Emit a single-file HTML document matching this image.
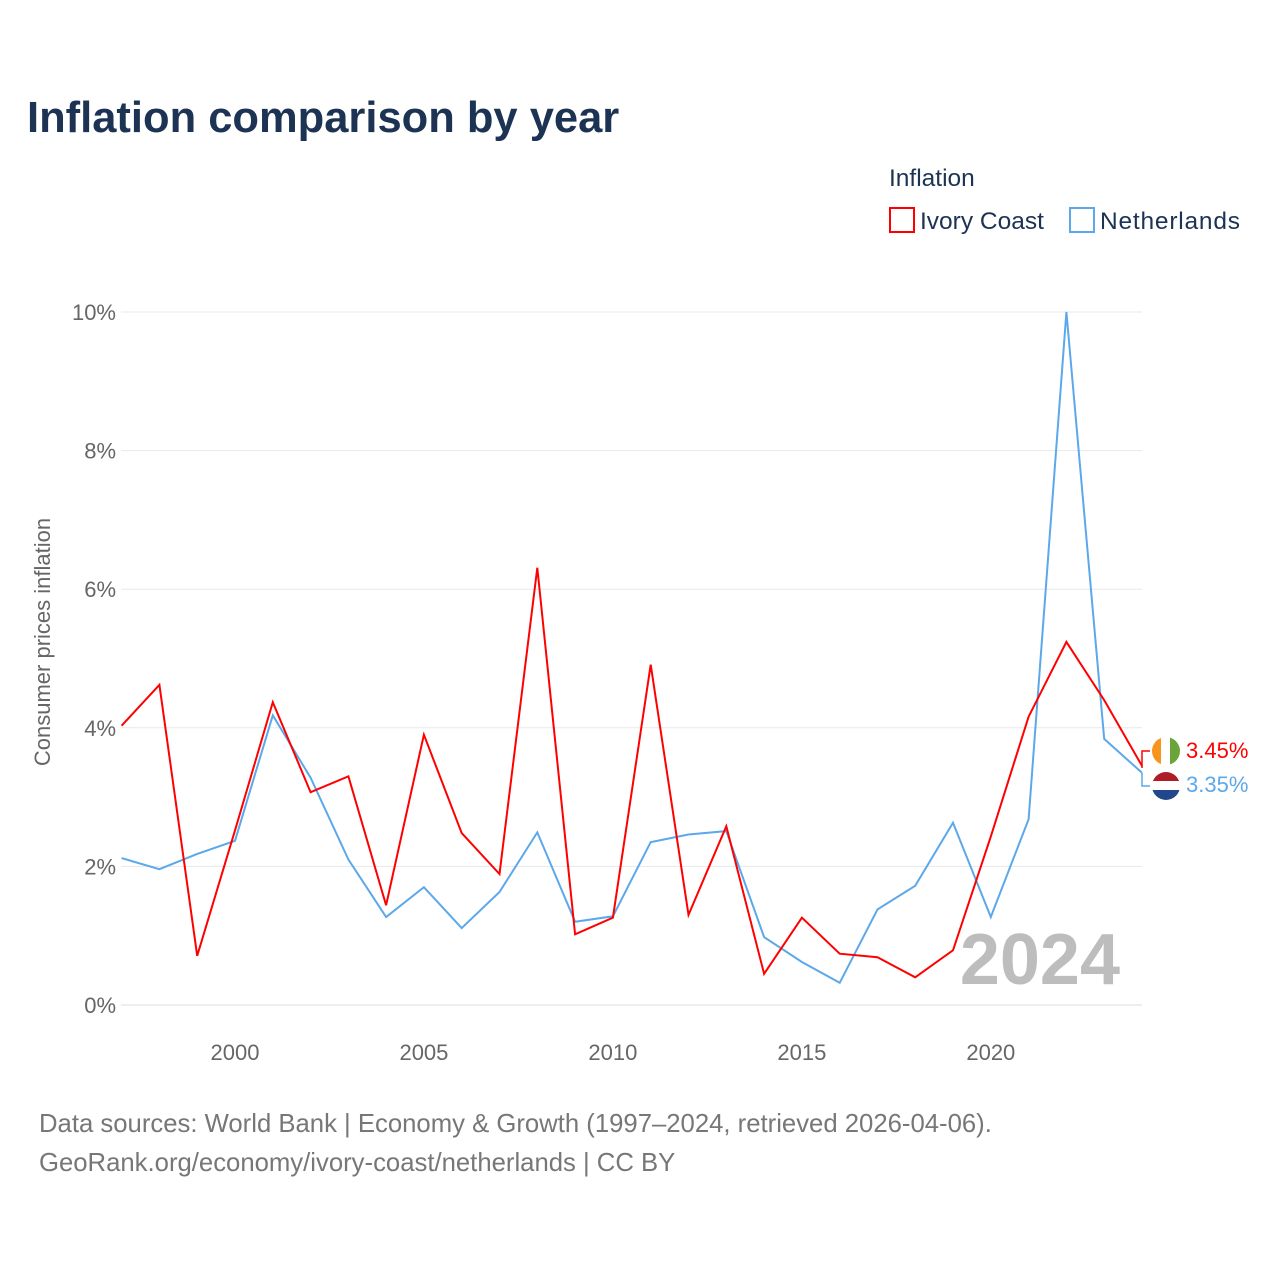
<!DOCTYPE html>
<html><head><meta charset="utf-8">
<style>
body{margin:0;background:#fff;font-family:"Liberation Sans",sans-serif;}
svg text{font-family:"Liberation Sans",sans-serif;}
</style></head>
<body>
<svg id="chart" width="1280" height="1280" viewBox="0 0 1280 1280">
<text x="27" y="132" font-size="43.5" font-weight="bold" fill="#1c3354">Inflation comparison by year</text>
<g>
<text x="889" y="186" font-size="24.5" fill="#1c3354">Inflation</text>
<g>
<rect x="890" y="208" width="24" height="24" fill="none" stroke="#ff0000" stroke-width="2"/>
<text x="920" y="229" font-size="24.5" fill="#1c3354">Ivory Coast</text></g>
<g>
<rect x="1070" y="208" width="24" height="24" fill="none" stroke="#5ba8ea" stroke-width="2"/>
<text x="1100" y="229" font-size="24.5" fill="#1c3354" textLength="140">Netherlands</text></g>
</g>
<text transform="translate(50,642) rotate(-90)" text-anchor="middle" font-size="22" fill="#666">Consumer prices inflation</text>
<g id="grid"></g>
<g id="xticks"></g>
<text x="1120" y="984" text-anchor="end" font-size="72" font-weight="bold" fill="#bdbdbd">2024</text>
<g id="series"></g>
<g>
<g>
<clipPath id="c1"><circle cx="1166" cy="751" r="14"/></clipPath>
<g clip-path="url(#c1)"><rect x="1152" y="737" width="10" height="28" fill="#f7941d"/><rect x="1161" y="737" width="10" height="28" fill="#fff"/><rect x="1170" y="737" width="10" height="28" fill="#6ba539"/></g></g>
<text x="1186" y="758" font-size="22" fill="#ff0000">3.45%</text>
<g>
<clipPath id="c2"><circle cx="1166" cy="786" r="14"/></clipPath>
<g clip-path="url(#c2)"><rect x="1152" y="772" width="28" height="10" fill="#ae1c28"/><rect x="1152" y="781" width="28" height="10" fill="#fff"/><rect x="1152" y="790" width="28" height="10" fill="#21468b"/></g></g>
<text x="1186" y="792" font-size="22" fill="#5ba8ea">3.35%</text>
<path d="M1142,768 L1142,751 L1150,751" fill="none" stroke="#ff0000" stroke-width="1.5"/>
<path d="M1142,773 L1142,786 L1150,786" fill="none" stroke="#5ba8ea" stroke-width="1.5"/>
</g>
<text x="39" y="1132" font-size="25.7" fill="#777">Data sources: World Bank | Economy &amp; Growth (1997–2024, retrieved 2026-04-06).</text>
<text x="39" y="1171" font-size="25.7" fill="#777">GeoRank.org/economy/ivory-coast/netherlands | CC BY</text>
</svg>
<script>
const years=[1997,1998,1999,2000,2001,2002,2003,2004,2005,2006,2007,2008,2009,2010,2011,2012,2013,2014,2015,2016,2017,2018,2019,2020,2021,2022,2023,2024];
const ivoryCoast=[4.03,4.62,0.71,2.52,4.37,3.07,3.30,1.44,3.90,2.48,1.89,6.31,1.02,1.26,4.91,1.30,2.58,0.45,1.26,0.74,0.69,0.40,0.79,2.43,4.16,5.24,4.40,3.45];
const netherlands=[2.12,1.96,2.18,2.37,4.18,3.28,2.10,1.27,1.70,1.11,1.63,2.49,1.20,1.28,2.35,2.46,2.51,0.98,0.62,0.32,1.38,1.72,2.63,1.27,2.68,10.0,3.84,3.35];
const yTicks=[0,2,4,6,8,10];
const xTicks=[2000,2005,2010,2015,2020];
const NS='http://www.w3.org/2000/svg';
const xs=y=>121.6+(y-1997)*(1142-121.6)/27;
const ys=v=>1005-v*69.3;
const grid=document.getElementById('grid');
yTicks.forEach(t=>{
 const l=document.createElementNS(NS,'line');
 l.setAttribute('x1',121);l.setAttribute('x2',1142);l.setAttribute('y1',ys(t));l.setAttribute('y2',ys(t));
 l.setAttribute('stroke',t===0?'#ddd':'#e8e8e8');l.setAttribute('stroke-width',1);
 
 
 grid.appendChild(l);
 const tx=document.createElementNS(NS,'text');
 tx.setAttribute('x',116);tx.setAttribute('y',ys(t)+8);tx.setAttribute('text-anchor','end');
 tx.setAttribute('font-size',22);tx.setAttribute('fill','#666');tx.textContent=t+'%';
 
 
 grid.appendChild(tx);
});
const xg=document.getElementById('xticks');
xTicks.forEach(t=>{
 const tx=document.createElementNS(NS,'text');
 tx.setAttribute('x',xs(t));tx.setAttribute('y',1060);tx.setAttribute('text-anchor','middle');
 tx.setAttribute('font-size',22);tx.setAttribute('fill','#666');tx.textContent=t;
 
 
 xg.appendChild(tx);
});
const sg=document.getElementById('series');
[[netherlands,'#5ba8ea','line-netherlands'],[ivoryCoast,'#ff0000','line-ivory-coast']].forEach(([d,c,n])=>{
 const p=document.createElementNS(NS,'path');
 p.setAttribute('d',d.map((v,i)=>(i?'L':'M')+xs(years[i]).toFixed(1)+','+ys(v).toFixed(1)).join(' '));
 p.setAttribute('fill','none');p.setAttribute('stroke',c);p.setAttribute('stroke-width',2);
 
 
 sg.appendChild(p);
});
</script>
</body></html>
